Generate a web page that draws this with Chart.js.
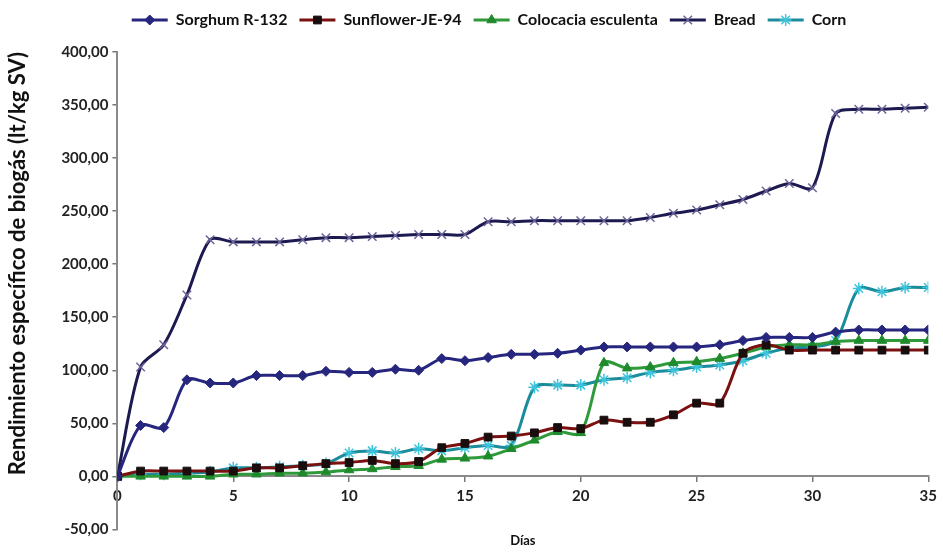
<!DOCTYPE html>
<html lang="es">
<head>
<meta charset="UTF-8">
<title>Rendimiento específico de biogás</title>
<script src="https://cdn.jsdelivr.net/npm/chart.js"></script>
<style>
    html, body { margin: 0; padding: 0; background: #fff; }
    #wrap { width: 943px; height: 555px; }
</style>
</head>
<body>
<div id="wrap"><canvas id="chart"></canvas></div>
<script>
// Días
const days = [0,1,2,3,4,5,6,7,8,9,10,11,12,13,14,15,16,17,18,19,20,21,22,23,24,25,26,27,28,29,30,31,32,33,34,35];

const sorghum = [0,48,46,91,88,88,95,95,95,99,98,98,101,100,111,109,112,115,115,116,119,122,122,122,122,122,124,128,131,131,131,136,138,138,138,138];
const sunflower = [0,5,5,5,5,5,8,8,10,12,13,15,12,14,27,31,37,38,41,46,45,53,51,51,58,69,69,116,124,119,119,119,119,119,119,119];
const colocacia = [0,0,0,0,0,2,2,3,3,4,6,7,9,10,16,17,19,26,34,42,41,107,102,103,107,108,111,116,122,124,124,127,128,128,128,128];
const bread = [0,103,124,171,223,221,221,221,223,225,225,226,227,228,228,228,240,240,241,241,241,241,241,244,248,251,256,261,269,276,272,342,346,346,347,348];
const corn = [0,2,2,3,4,8,8,9,10,12,22,24,22,26,24,27,29,29,84,86,86,91,93,98,100,103,105,109,116,121,122,128,177,174,178,178];

const yTicks = [-50, 0, 50, 100, 150, 200, 250, 300, 350, 400];

function pts(vals) {
    return days.map((d, i) => ({ x: d, y: vals[i] }));
}

const FONT = 'Lato, "Open Sans", sans-serif';
const LEGEND_SHIFT = 20;

// extra room under the legend, and nudge it a bit to the right
const legendGap = {
    id: 'legendGap',
    beforeInit(chart) {
        const fit = chart.legend.fit;
        chart.legend.fit = function () {
            fit.bind(chart.legend)();
            this.height += 14;
        };
    },
    beforeDraw(chart) {
        const lg = chart.legend;
        if (lg._shifted) return;
        lg.left += LEGEND_SHIFT;
        lg.right += LEGEND_SHIFT;
        lg.legendHitBoxes.forEach(h => { h.left += LEGEND_SHIFT; });
        lg._shifted = true;
    }
};

// draw the series marker in the middle of each legend line
const legendMarkers = {
    id: 'legendMarkers',
    afterDraw(chart) {
        const legend = chart.legend;
        if (!legend || !legend.legendHitBoxes) return;
        const ctx = chart.ctx;
        const opts = legend.options.labels;
        const fontSize = opts.font.size;
        legend.legendItems.forEach((item, i) => {
            const box = legend.legendHitBoxes[i];
            const ds = chart.data.datasets[item.datasetIndex];
            const cx = box.left + opts.pointStyleWidth / 2;
            const cy = box.top + fontSize / 2;
            ctx.save();
            ctx.fillStyle = ds.pointBackgroundColor;
            ctx.strokeStyle = ds.pointBorderColor;
            ctx.lineWidth = ds.pointBorderWidth;
            Chart.helpers.drawPoint(ctx, {
                pointStyle: ds.pointStyle,
                radius: ds.pointRadius,
                rotation: 0,
                borderWidth: ds.pointBorderWidth
            }, cx, cy);
            ctx.restore();
        });
    }
};

new Chart(document.getElementById('chart'), {
    type: 'line',
    data: {
        datasets: [
            {
                label: 'Sorghum R-132',
                data: pts(sorghum),
                borderColor: '#26267f',
                borderWidth: 3,
                pointStyle: 'rectRot',
                pointRadius: 5,
                pointBackgroundColor: '#26267f',
                pointBorderColor: '#26267f',
                pointBorderWidth: 1
            },
            {
                label: 'Sunflower-JE-94',
                data: pts(sunflower),
                borderColor: '#7a1010',
                borderWidth: 3,
                pointStyle: 'rect',
                pointRadius: 5.5,
                pointBackgroundColor: '#1a0d0d',
                pointBorderColor: '#1a0d0d',
                pointBorderWidth: 1
            },
            {
                label: 'Colocacia esculenta',
                data: pts(colocacia),
                borderColor: '#2e9a3a',
                borderWidth: 3,
                pointStyle: 'triangle',
                pointRadius: 5.5,
                pointBackgroundColor: '#1f8a2c',
                pointBorderColor: '#1f8a2c',
                pointBorderWidth: 1
            },
            {
                label: 'Bread',
                data: pts(bread),
                borderColor: '#1c1a50',
                borderWidth: 3,
                pointStyle: 'crossRot',
                pointRadius: 6,
                pointBackgroundColor: '#6f6499',
                pointBorderColor: '#6f6499',
                pointBorderWidth: 1.5
            },
            {
                label: 'Corn',
                data: pts(corn),
                borderColor: '#1a8c9c',
                borderWidth: 3,
                pointStyle: 'star',
                pointRadius: 6,
                pointBackgroundColor: '#3cc4dc',
                pointBorderColor: '#3cc4dc',
                pointBorderWidth: 1.5
            }
        ]
    },
    options: {
        responsive: true,
        maintainAspectRatio: false,
        animation: false,
        layout: { padding: { left: 4, right: 9, top: 0, bottom: 4 } },
        elements: { line: { tension: 0.3 } },
        plugins: {
            tooltip: { enabled: false },
            legend: {
                position: 'top',
                labels: {
                    usePointStyle: true,
                    pointStyleWidth: 36,
                    boxHeight: 16,
                    padding: 12,
                    color: '#111',
                    font: { family: FONT, size: 16, weight: 'bold' },
                    generateLabels(chart) {
                        return chart.data.datasets.map((ds, i) => ({
                            text: ds.label,
                            datasetIndex: i,
                            pointStyle: 'line',
                            strokeStyle: ds.borderColor,
                            fillStyle: ds.borderColor,
                            lineWidth: 3,
                            fontColor: '#111',
                            hidden: false
                        }));
                    }
                }
            }
        },
        scales: {
            x: {
                type: 'linear',
                min: 0,
                max: 35,
                position: { y: 0 },
                grid: { drawOnChartArea: false, tickLength: 5, color: '#777', lineWidth: 1.5 },
                border: { color: '#8a8a8a', width: 2 },
                ticks: {
                    stepSize: 5,
                    color: '#222',
                    padding: 6,
                    font: { family: FONT, size: 15, weight: 'bold' }
                }
            },
            x2: {
                type: 'linear',
                position: 'bottom',
                min: 0,
                max: 35,
                grid: { display: false, drawTicks: false },
                border: { display: false },
                ticks: { display: false },
                title: {
                    display: true,
                    text: 'Días',
                    color: '#111',
                    padding: { top: 4, bottom: 2 },
                    font: { family: FONT, size: 13, weight: 'bold' }
                }
            },
            y: {
                min: -50,
                max: 400,
                afterBuildTicks(scale) {
                    scale.ticks = yTicks.map(v => ({ value: v }));
                },
                grid: { drawOnChartArea: false, tickLength: 5, color: '#777', lineWidth: 1.5 },
                border: { color: '#8a8a8a', width: 2 },
                ticks: {
                    color: '#222',
                    padding: 4,
                    font: { family: FONT, size: 15, weight: 'bold' },
                    callback: v => v.toFixed(2).replace('.', ',')
                },
                title: {
                    display: true,
                    align: 'end',
                    text: 'Rendimiento específico de biogás (lt/kg SV)',
                    color: '#111',
                    padding: { top: 1, bottom: 26 },
                    font: { family: FONT, size: 22, weight: 'bold' }
                }
            }
        }
    },
    plugins: [legendGap, legendMarkers]
});
</script>
</body>
</html>
